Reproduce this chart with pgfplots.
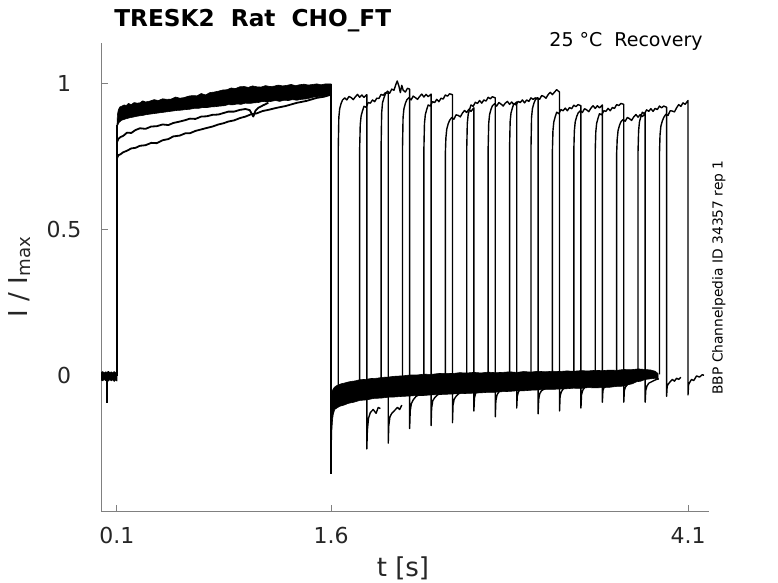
\documentclass[border=0pt]{standalone}
\usepackage{fontspec}
\setmainfont{DejaVu Sans}
\usepackage{pgfplots}
\pgfplotsset{compat=1.18}
\tikzset{tr/.style={black, mark=none, line width=0.7pt, line join=round},
         band/.style={black, fill=black, mark=none, line width=0.3pt, line join=round}}
\begin{document}
\begin{tikzpicture}
\useasboundingbox (0,0) rectangle (389pt,291.5pt);
\begin{axis}[
  at={(50.5pt,35.5pt)}, anchor=south west,
  scale only axis, width=304pt, height=234.5pt,
  xmin=-0.012, xmax=4.247, ymin=-0.466, ymax=1.14,
  axis x line*=bottom, axis y line*=left,
  axis line style={-, gray, line width=0.5pt},
  tick align=inside, major tick length=3.5pt,
  tick style={gray, line width=0.5pt},
  xtick={0.1,1.6,4.1}, xticklabels={0.1,1.6,4.1},
  ytick={0,0.5,1}, yticklabels={0,0.5,1},
  tick label style={font=\fontsize{11}{13}\selectfont, text=black!85},
  xticklabel style={yshift=-4pt},
  yticklabel style={anchor=center, xshift=-18.5pt},
]
% baseline before prepulse
\addplot[band] coordinates {(-0.012,0.012) (0.0,0.015) (0.01,0.01) (0.02,0.014) (0.03,0.012) (0.04,0.016) (0.05,0.011) (0.06,0.014) (0.07,0.01) (0.08,0.015) (0.09,0.012) (0.1,0.013)
 (0.1,-0.018) (0.09,-0.014) (0.08,-0.019) (0.07,-0.013) (0.06,-0.017) (0.05,-0.012) (0.04,-0.018) (0.03,-0.014) (0.02,-0.016) (0.01,-0.012) (0.0,-0.017) (-0.012,-0.014) (-0.012,0.012)};
\addplot[tr, line width=1pt] coordinates {(0.03,0) (0.03,-0.092)};
\addplot[tr, line width=1.1pt] coordinates {(0.099,0) (0.099,0.86)};
% prepulse dense band
\addplot[band] coordinates {(0.1,0.86) (0.103,0.895) (0.11,0.912) (0.12,0.921) (0.135,0.924) (0.15,0.928) (0.165,0.926) (0.18,0.933) (0.2,0.929) (0.22,0.936) (0.24,0.934) (0.26,0.935) (0.28,0.942) (0.3,0.938) (0.33,0.941) (0.36,0.946) (0.39,0.943) (0.42,0.949) (0.45,0.947) (0.48,0.948) (0.51,0.955) (0.54,0.951) (0.57,0.953) (0.6,0.958) (0.63,0.96) (0.66,0.959) (0.69,0.967) (0.72,0.962) (0.75,0.97) (0.78,0.972) (0.81,0.975) (0.84,0.979) (0.87,0.98) (0.9,0.986) (0.93,0.984) (0.96,0.99) (0.99,0.991) (1.02,0.988) (1.05,0.993) (1.08,0.99) (1.11,0.989) (1.14,0.994) (1.17,0.991) (1.2,0.992) (1.23,0.996) (1.26,0.993) (1.29,0.995) (1.32,0.998) (1.35,0.994) (1.38,0.997) (1.41,0.999) (1.44,0.996) (1.47,0.998) (1.5,1.0) (1.53,0.997) (1.56,1.0) (1.6,1.0)
 (1.6,0.962) (1.57,0.96) (1.54,0.958) (1.51,0.956) (1.48,0.955) (1.45,0.951) (1.42,0.948) (1.39,0.947) (1.36,0.944) (1.33,0.946) (1.3,0.943) (1.27,0.944) (1.24,0.94) (1.21,0.943) (1.18,0.94) (1.15,0.938) (1.12,0.94) (1.09,0.936) (1.06,0.935) (1.03,0.933) (1.0,0.934) (0.97,0.93) (0.94,0.931) (0.91,0.928) (0.88,0.929) (0.85,0.925) (0.82,0.924) (0.79,0.922) (0.76,0.921) (0.73,0.919) (0.7,0.919) (0.67,0.916) (0.64,0.916) (0.61,0.913) (0.58,0.912) (0.55,0.91) (0.52,0.909) (0.49,0.907) (0.46,0.905) (0.43,0.903) (0.4,0.901) (0.37,0.899) (0.34,0.897) (0.31,0.895) (0.28,0.892) (0.25,0.89) (0.22,0.887) (0.19,0.884) (0.16,0.88) (0.13,0.875) (0.115,0.868) (0.105,0.858) (0.1,0.85) (0.1,0.86)};
% two slower prepulse sweeps
\addplot[tr, line width=0.9pt] coordinates {(0.1,0.80) (0.11,0.812) (0.125,0.818) (0.144,0.822) (0.17,0.833) (0.2,0.832) (0.23,0.842) (0.261,0.848) (0.3,0.846) (0.34,0.854) (0.378,0.855) (0.42,0.861) (0.46,0.859) (0.494,0.866) (0.54,0.871) (0.58,0.876) (0.611,0.881) (0.65,0.88) (0.69,0.888) (0.728,0.889) (0.77,0.894) (0.81,0.895) (0.845,0.90) (0.88,0.905) (0.92,0.905) (0.962,0.911) (1.0,0.914) (1.03,0.91) (1.055,0.888) (1.07,0.908) (1.09,0.918) (1.125,0.927) (1.16,0.935)};
\addplot[tr, line width=0.9pt] coordinates {(0.1,0.745) (0.11,0.756) (0.125,0.759) (0.144,0.766) (0.17,0.771) (0.2,0.779) (0.23,0.781) (0.261,0.788) (0.3,0.79) (0.34,0.798) (0.378,0.797) (0.42,0.807) (0.46,0.811) (0.494,0.82) (0.54,0.823) (0.58,0.831) (0.611,0.831) (0.65,0.839) (0.69,0.844) (0.728,0.849) (0.77,0.854) (0.81,0.861) (0.845,0.865) (0.88,0.871) (0.92,0.875) (0.962,0.883) (1.0,0.888) (1.04,0.896) (1.079,0.899) (1.12,0.907) (1.16,0.911) (1.219,0.918) (1.28,0.924) (1.359,0.935) (1.43,0.942) (1.499,0.952) (1.55,0.956) (1.592,0.962)};
% end of prepulse
\addplot[tr, line width=1pt] coordinates {(1.6,1.0) (1.6,-0.335)};
% recovery band near zero
\addplot[band] coordinates {(1.601,-0.12) (1.603,-0.07) (1.607,-0.052) (1.615,-0.044) (1.625,-0.038) (1.64,-0.033) (1.655,-0.03) (1.67,-0.027) (1.69,-0.025) (1.71,-0.022) (1.74,-0.019) (1.77,-0.017) (1.8,-0.013) (1.84,-0.012) (1.88,-0.009) (1.92,-0.008) (1.96,-0.005) (2.0,-0.004) (2.05,-0.001) (2.1,0.0) (2.15,0.003) (2.2,0.003) (2.25,0.006) (2.3,0.005) (2.35,0.008) (2.4,0.009) (2.45,0.008) (2.5,0.011) (2.55,0.01) (2.6,0.012) (2.65,0.01) (2.7,0.013) (2.75,0.011) (2.8,0.012) (2.85,0.014) (2.9,0.012) (2.95,0.015) (3.0,0.013) (3.05,0.016) (3.1,0.014) (3.15,0.016) (3.2,0.015) (3.25,0.017) (3.3,0.016) (3.35,0.018) (3.4,0.017) (3.45,0.019) (3.5,0.018) (3.55,0.02) (3.6,0.019) (3.65,0.022) (3.7,0.021) (3.75,0.024) (3.8,0.022) (3.84,0.02) (3.87,0.016) (3.89,0.008)
 (3.89,-0.012) (3.87,-0.008) (3.84,-0.01) (3.8,-0.012) (3.77,-0.018) (3.74,-0.02) (3.71,-0.027) (3.68,-0.03) (3.65,-0.035) (3.6,-0.036) (3.55,-0.039) (3.5,-0.04) (3.45,-0.041) (3.4,-0.04) (3.35,-0.043) (3.3,-0.042) (3.25,-0.044) (3.2,-0.045) (3.15,-0.046) (3.1,-0.046) (3.05,-0.048) (3.0,-0.049) (2.95,-0.051) (2.9,-0.051) (2.85,-0.053) (2.8,-0.054) (2.75,-0.056) (2.7,-0.056) (2.65,-0.058) (2.6,-0.059) (2.55,-0.06) (2.5,-0.061) (2.45,-0.062) (2.4,-0.063) (2.35,-0.064) (2.3,-0.065) (2.25,-0.067) (2.2,-0.067) (2.15,-0.069) (2.1,-0.07) (2.05,-0.072) (2.0,-0.073) (1.95,-0.076) (1.9,-0.077) (1.85,-0.082) (1.8,-0.084) (1.76,-0.09) (1.72,-0.094) (1.69,-0.1) (1.66,-0.104) (1.64,-0.11) (1.625,-0.115) (1.615,-0.132) (1.61,-0.15) (1.606,-0.18) (1.603,-0.24) (1.601,-0.3) (1.601,-0.12)};
% test pulses
\addplot[tr] coordinates {(1.65,-0.05) (1.65,0.78) (1.654,0.885) (1.66,0.915) (1.67,0.933) (1.68,0.945) (1.695,0.952) (1.71,0.945) (1.725,0.957) (1.74,0.953) (1.755,0.946) (1.77,0.956) (1.785,0.964) (1.80,0.954) (1.815,0.962) (1.83,0.954) (1.85,0.963) (1.85,-0.25) (1.854,-0.185) (1.862,-0.145) (1.875,-0.125) (1.895,-0.115) (1.915,-0.128) (1.93,-0.108) (1.945,-0.112)};
\addplot[tr] coordinates {(1.80,-0.03) (1.80,0.78) (1.804,0.86) (1.81,0.89) (1.82,0.908) (1.83,0.923) (1.845,0.920) (1.86,0.936) (1.875,0.934) (1.89,0.945) (1.905,0.939) (1.92,0.951) (1.935,0.950) (1.95,0.964) (1.965,0.961) (1.98,0.970) (2.00,0.968) (2.00,-0.23) (2.004,-0.17) (2.012,-0.14) (2.025,-0.128) (2.045,-0.118) (2.065,-0.108) (2.08,-0.115) (2.095,-0.1)};
\addplot[tr] coordinates {(1.95,-0.02) (1.95,0.78) (1.954,0.9) (1.96,0.935) (1.97,0.952) (1.98,0.965) (1.995,0.975) (2.01,0.968) (2.025,0.982) (2.04,0.978) (2.055,1.0) (2.063,1.01) (2.075,0.992) (2.085,0.97) (2.095,0.995) (2.105,0.978) (2.12,0.972) (2.135,0.985) (2.15,0.982) (2.15,-0.18) (2.154,-0.12) (2.162,-0.095) (2.175,-0.082) (2.195,-0.07) (2.215,-0.065) (2.23,-0.06) (2.245,-0.055)};
\addplot[tr] coordinates {(2.10,-0.02) (2.10,0.78) (2.104,0.885) (2.11,0.915) (2.12,0.933) (2.13,0.945) (2.145,0.953) (2.16,0.945) (2.175,0.958) (2.19,0.953) (2.205,0.947) (2.22,0.957) (2.235,0.965) (2.25,0.955) (2.265,0.964) (2.28,0.956) (2.30,0.965) (2.30,-0.17) (2.304,-0.11) (2.312,-0.085) (2.325,-0.075) (2.345,-0.065) (2.365,-0.06) (2.38,-0.058) (2.395,-0.05)};
\addplot[tr] coordinates {(2.25,-0.015) (2.25,0.78) (2.254,0.865) (2.26,0.895) (2.27,0.913) (2.28,0.928) (2.295,0.924) (2.31,0.939) (2.325,0.936) (2.34,0.947) (2.355,0.939) (2.37,0.951) (2.385,0.948) (2.40,0.962) (2.415,0.958) (2.43,0.966) (2.45,0.963) (2.45,-0.16) (2.454,-0.1) (2.462,-0.08) (2.475,-0.07) (2.495,-0.06) (2.515,-0.055) (2.53,-0.05) (2.545,-0.048)};
\addplot[tr] coordinates {(2.40,-0.01) (2.40,0.76) (2.404,0.815) (2.41,0.845) (2.42,0.863) (2.43,0.875) (2.445,0.885) (2.46,0.879) (2.475,0.894) (2.49,0.892) (2.505,0.887) (2.52,0.900) (2.535,0.909) (2.55,0.902) (2.565,0.913) (2.58,0.906) (2.60,0.918) (2.60,-0.12) (2.604,-0.075) (2.612,-0.06) (2.625,-0.05) (2.645,-0.045) (2.665,-0.04) (2.68,-0.042) (2.695,-0.035)};
\addplot[tr] coordinates {(2.55,-0.01) (2.55,0.78) (2.554,0.865) (2.56,0.895) (2.57,0.913) (2.58,0.928) (2.595,0.923) (2.61,0.937) (2.625,0.933) (2.64,0.943) (2.655,0.934) (2.67,0.945) (2.685,0.941) (2.70,0.954) (2.715,0.949) (2.73,0.956) (2.75,0.952) (2.75,-0.14) (2.754,-0.085) (2.762,-0.065) (2.775,-0.055) (2.795,-0.048) (2.815,-0.045) (2.83,-0.04) (2.845,-0.038)};
\addplot[tr] coordinates {(2.70,-0.01) (2.70,0.78) (2.704,0.865) (2.71,0.895) (2.72,0.913) (2.73,0.925) (2.745,0.932) (2.76,0.924) (2.775,0.936) (2.79,0.931) (2.805,0.924) (2.82,0.934) (2.835,0.940) (2.85,0.930) (2.865,0.938) (2.88,0.929) (2.90,0.938) (2.90,-0.11) (2.904,-0.07) (2.912,-0.055) (2.925,-0.045) (2.945,-0.04) (2.965,-0.038) (2.98,-0.035) (2.995,-0.03)};
\addplot[tr] coordinates {(2.85,-0.01) (2.85,0.78) (2.854,0.87) (2.86,0.9) (2.87,0.918) (2.88,0.933) (2.895,0.928) (2.91,0.940) (2.925,0.936) (2.94,0.945) (2.955,0.935) (2.97,0.945) (2.985,0.940) (3.00,0.952) (3.015,0.947) (3.03,0.952) (3.05,0.948) (3.05,-0.13) (3.054,-0.08) (3.062,-0.06) (3.075,-0.05) (3.095,-0.045) (3.115,-0.04) (3.13,-0.038) (3.145,-0.035)};
\addplot[tr] coordinates {(3.00,-0.005) (3.00,0.78) (3.004,0.885) (3.01,0.915) (3.02,0.933) (3.03,0.945) (3.045,0.953) (3.06,0.947) (3.075,0.960) (3.09,0.957) (3.105,0.951) (3.12,0.963) (3.135,0.971) (3.15,0.963) (3.165,0.972) (3.18,0.980) (3.20,0.972) (3.20,-0.12) (3.204,-0.07) (3.212,-0.055) (3.225,-0.045) (3.245,-0.04) (3.265,-0.035) (3.28,-0.033) (3.295,-0.03)};
\addplot[tr] coordinates {(3.15,-0.005) (3.15,0.77) (3.154,0.84) (3.16,0.87) (3.17,0.888) (3.18,0.903) (3.195,0.898) (3.21,0.912) (3.225,0.908) (3.24,0.917) (3.255,0.908) (3.27,0.919) (3.285,0.915) (3.30,0.927) (3.315,0.922) (3.33,0.929) (3.35,0.925) (3.35,-0.11) (3.354,-0.065) (3.362,-0.05) (3.375,-0.04) (3.395,-0.035) (3.415,-0.03) (3.43,-0.032) (3.445,-0.028)};
\addplot[tr] coordinates {(3.30,0) (3.30,0.77) (3.304,0.84) (3.31,0.87) (3.32,0.888) (3.33,0.900) (3.345,0.908) (3.36,0.902) (3.375,0.915) (3.39,0.911) (3.405,0.905) (3.42,0.917) (3.435,0.925) (3.45,0.916) (3.465,0.925) (3.48,0.918) (3.50,0.928) (3.50,-0.09) (3.504,-0.05) (3.512,-0.04) (3.525,-0.032) (3.545,-0.028) (3.565,-0.025) (3.58,-0.022) (3.595,-0.02)};
\addplot[tr] coordinates {(3.45,0) (3.45,0.77) (3.454,0.835) (3.46,0.865) (3.47,0.883) (3.48,0.898) (3.495,0.894) (3.51,0.908) (3.525,0.906) (3.54,0.916) (3.555,0.908) (3.57,0.919) (3.585,0.916) (3.60,0.929) (3.615,0.926) (3.63,0.933) (3.65,0.930) (3.65,-0.09) (3.654,-0.05) (3.662,-0.038) (3.675,-0.03) (3.695,-0.025) (3.715,-0.02) (3.73,-0.018) (3.745,-0.015)};
\addplot[tr] coordinates {(3.60,0.005) (3.60,0.76) (3.604,0.81) (3.61,0.84) (3.62,0.858) (3.63,0.870) (3.645,0.878) (3.66,0.872) (3.675,0.885) (3.69,0.881) (3.705,0.875) (3.72,0.887) (3.735,0.895) (3.75,0.886) (3.765,0.895) (3.78,0.888) (3.80,0.898) (3.80,-0.09) (3.804,-0.05) (3.812,-0.035) (3.825,-0.025) (3.845,-0.02) (3.865,-0.015) (3.88,-0.012) (3.895,-0.01)};
\addplot[tr] coordinates {(3.75,0.005) (3.75,0.77) (3.754,0.84) (3.76,0.87) (3.77,0.888) (3.78,0.903) (3.795,0.898) (3.81,0.911) (3.825,0.906) (3.84,0.915) (3.855,0.906) (3.87,0.916) (3.885,0.912) (3.90,0.924) (3.915,0.918) (3.93,0.924) (3.95,0.920) (3.95,-0.07) (3.954,-0.035) (3.962,-0.028) (3.975,-0.02) (3.99,-0.012) (4.005,-0.018) (4.02,-0.008) (4.035,-0.012) (4.05,-0.005)};
\addplot[tr] coordinates {(3.90,0.005) (3.90,0.76) (3.904,0.825) (3.91,0.855) (3.92,0.873) (3.93,0.885) (3.945,0.896) (3.96,0.892) (3.975,0.908) (3.99,0.907) (4.005,0.904) (4.02,0.918) (4.035,0.929) (4.05,0.923) (4.065,0.935) (4.08,0.930) (4.10,0.943) (4.10,-0.065) (4.104,-0.03) (4.112,-0.022) (4.125,-0.012) (4.14,-0.016) (4.16,0.0) (4.18,-0.004) (4.20,0.004) (4.212,0.002)};
\end{axis}
\node[anchor=base west, inner sep=0, font=\fontsize{11.6}{14}\selectfont\bfseries] at (57pt,278.2pt) {TRESK2\ \ Rat\ \ CHO\_FT};
\node[anchor=base east, inner sep=0, font=\fontsize{9.5}{11}\selectfont] at (351.5pt,268pt) {25 °C\ \ Recovery};
\node[anchor=base west, rotate=90, inner sep=0, font=\fontsize{6.9}{8}\selectfont] at (361.3pt,94pt) {BBP Channelpedia ID 34357 rep 1};
\node[anchor=base, rotate=90, inner sep=0, font=\fontsize{13}{15}\selectfont, text=black!85] at (13.5pt,153.25pt) {I / I\textsubscript{max}};
\node[anchor=base, inner sep=0, font=\fontsize{13}{15}\selectfont, text=black!85] at (201.5pt,3pt) {t [s]};
\end{tikzpicture}
\end{document}
